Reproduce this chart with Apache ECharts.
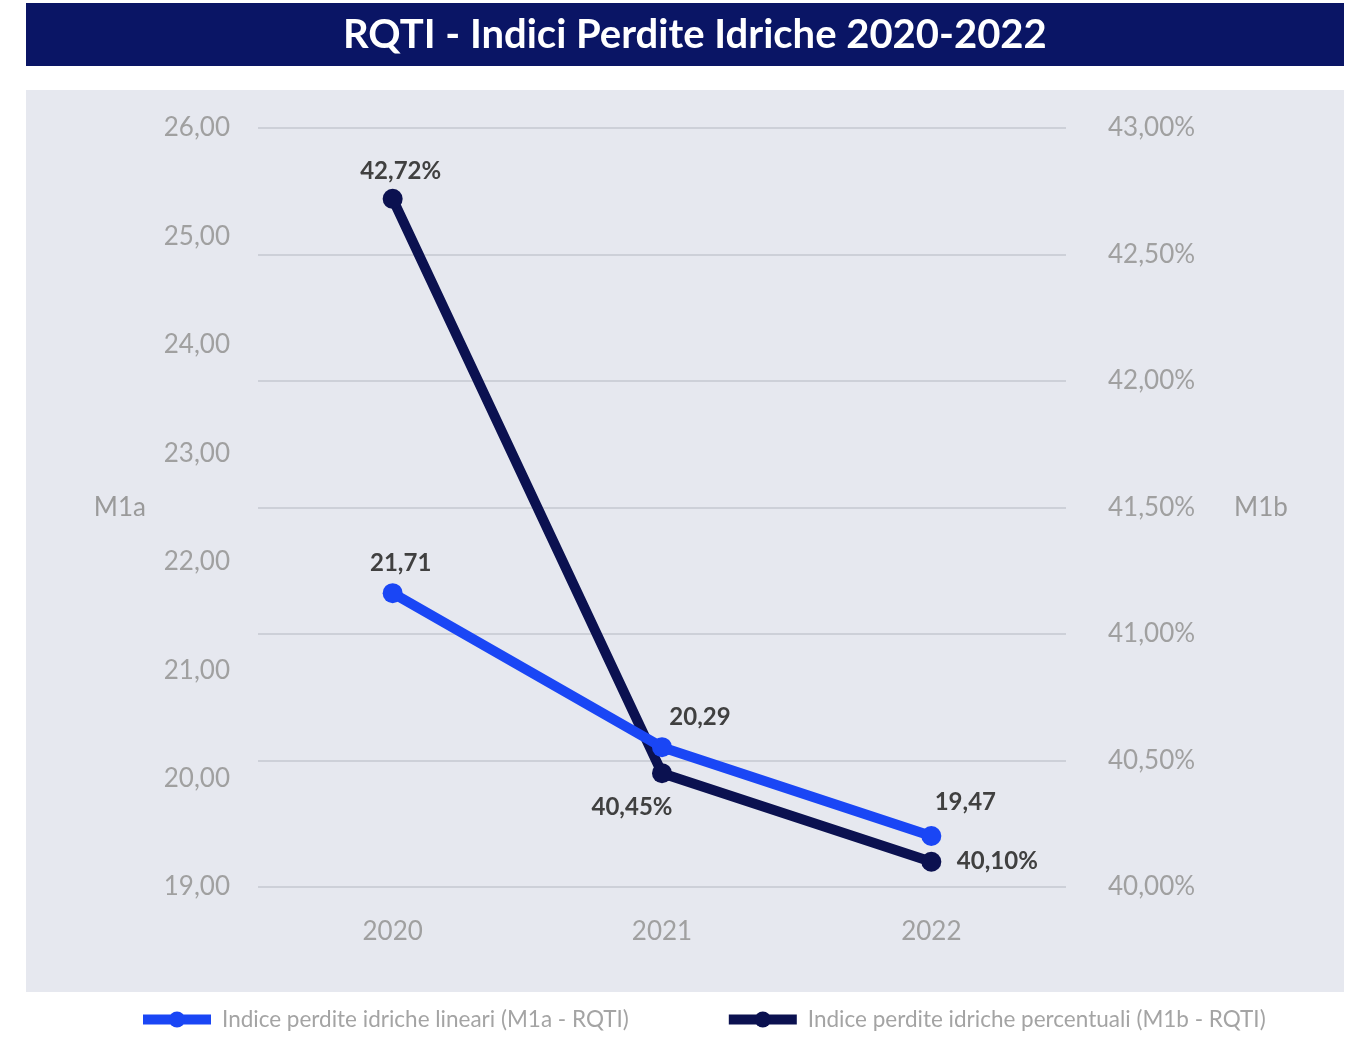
<!DOCTYPE html>
<html>
<head>
<meta charset="utf-8">
<script src="https://cdn.jsdelivr.net/npm/echarts@6/dist/echarts.min.js"></script>
<style>
  html, body { margin: 0; padding: 0; background: #ffffff; }
  #chart { width: 1352px; height: 1040px; }
</style>
</head>
<body>
<div id="chart"></div>
<script>
// dati
const years = ['2020', '2021', '2022'];
const m1a = [21.71, 20.29, 19.47];
const m1b = [42.72, 40.45, 40.10];
const m1aName = 'Indice perdite idriche lineari (M1a - RQTI)';
const m1bName = 'Indice perdite idriche percentuali (M1b - RQTI)';

const fmt = (v, d) => v.toFixed(d).replace('.', ',');

// posizione etichette per punto
const m1aLabelPos = [[8, -30], [38, -30], [34, -34]];
const m1bLabelPos = [[8, -28], [-30, 34], [66, 0]];

const chart = echarts.init(document.getElementById('chart'));

const option = {
  backgroundColor: '#ffffff',
  textStyle: { fontFamily: 'Lato, "Open Sans", sans-serif' },
  graphic: [
    { type: 'rect', shape: { x: 26, y: 3, width: 1318, height: 63 }, style: { fill: '#0a1565' }, z: -10 },
    { type: 'rect', shape: { x: 26, y: 90, width: 1318, height: 902 }, style: { fill: '#e6e8ef' }, z: -10 },
    {
      type: 'text', left: 343, top: 15,
      style: { text: 'RQTI - Indici Perdite Idriche 2020-2022', fill: '#ffffff', font: 'bold 40px Lato, "Open Sans", sans-serif' }
    }
  ],
  grid: { left: 258, right: 286, top: 128, bottom: 153 },
  legend: {
    bottom: 4,
    left: 133,
    itemWidth: 68,
    itemHeight: 20,
    itemGap: 95,
    lineStyle: { width: 10 },
    textStyle: { color: '#a4a4a4', fontSize: 22.5, padding: [0, 0, 0, 6] },
    data: [m1aName, m1bName]
  },
  xAxis: {
    type: 'category',
    data: years,
    axisLine: { show: false },
    axisTick: { show: false },
    axisLabel: { color: '#a0a0a0', fontSize: 26, margin: 32 }
  },
  yAxis: [
    {
      type: 'value',
      min: 19, max: 26, interval: 1,
      name: 'M1a',
      nameLocation: 'middle',
      nameRotate: 0,
      nameGap: 112,
      nameTextStyle: { color: '#9a9a9a', fontSize: 26 },
      axisLine: { show: false },
      axisTick: { show: false },
      splitLine: { show: false },
      axisLabel: { color: '#a0a0a0', fontSize: 26, margin: 28, formatter: v => fmt(v, 2) }
    },
    {
      type: 'value',
      min: 40, max: 43, interval: 0.5,
      name: 'M1b',
      nameLocation: 'middle',
      nameRotate: 0,
      nameGap: 168,
      nameTextStyle: { color: '#9a9a9a', fontSize: 26 },
      axisLine: { show: false },
      axisTick: { show: false },
      splitLine: { show: true, lineStyle: { color: '#cdd0d8', width: 2 } },
      axisLabel: { color: '#a0a0a0', fontSize: 26, margin: 42, formatter: v => fmt(v, 2) + '%' }
    }
  ],
  series: [
    {
      name: m1aName,
      type: 'line',
      yAxisIndex: 0,
      data: m1a.map((v, i) => ({
        value: v,
        label: { offset: m1aLabelPos[i] }
      })),
      symbol: 'circle',
      symbolSize: 20,
      lineStyle: { color: '#1a46f5', width: 10 },
      itemStyle: { color: '#1a46f5' },
      label: {
        show: true,
        position: 'inside',
        color: '#404040',
        fontWeight: 'bold',
        fontSize: 24,
        formatter: p => fmt(p.value, 2)
      },
      z: 3
    },
    {
      name: m1bName,
      type: 'line',
      yAxisIndex: 1,
      data: m1b.map((v, i) => ({
        value: v,
        label: { offset: m1bLabelPos[i] }
      })),
      symbol: 'circle',
      symbolSize: 20,
      lineStyle: { color: '#0b1150', width: 10 },
      itemStyle: { color: '#0b1150' },
      label: {
        show: true,
        position: 'inside',
        color: '#404040',
        fontWeight: 'bold',
        fontSize: 24,
        formatter: p => fmt(p.value, 2) + '%'
      },
      z: 2
    }
  ]
};

chart.setOption(option);
</script>
</body>
</html>
